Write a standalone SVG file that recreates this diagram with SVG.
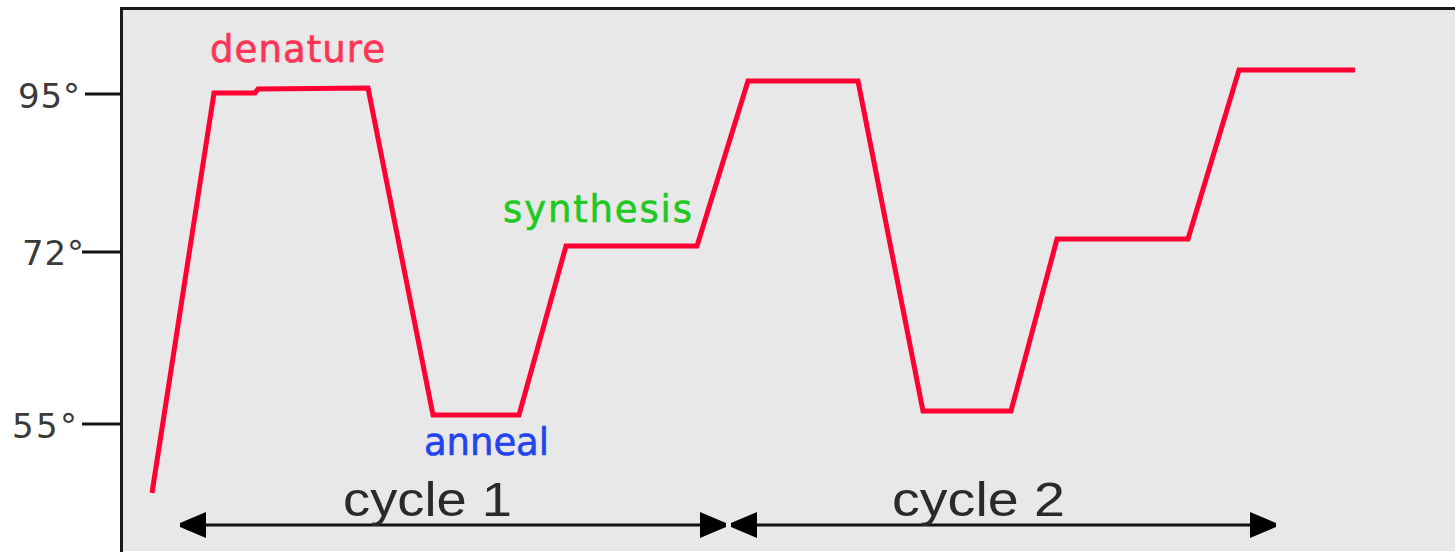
<svg xmlns="http://www.w3.org/2000/svg" width="1455" height="552" viewBox="0 0 1455 552">
  <style>
    .frame { stroke: #1a1a1a; stroke-width: 3; fill: none; }
    .tick { stroke: #111; stroke-width: 3; }
    .axis-label { font-family: "DejaVu Sans", Verdana, sans-serif; font-size: 34px; fill: #3a3a3a; }
    .phase { font-family: "DejaVu Sans", Verdana, sans-serif; font-size: 37px; stroke-width: 0.6px; }
    .cycle-label { font-family: "Liberation Sans", Arial, sans-serif; font-size: 48px; fill: #2a2a2a; }
    .trace { stroke: #ff0033; stroke-width: 5; fill: none; stroke-linejoin: miter; }
    .span { stroke: #111; stroke-width: 3; fill: none; marker-start: url(#head-start); marker-end: url(#head-end); }
  </style>
  <defs>
    <marker id="head-end" viewBox="0 0 26 26" refX="26" refY="13" markerWidth="26" markerHeight="26" markerUnits="userSpaceOnUse" orient="auto">
      <path d="M0,0 L26,11 L26,15 L0,26 Z" fill="#000"/>
    </marker>
    <marker id="head-start" viewBox="0 0 26 26" refX="0" refY="13" markerWidth="26" markerHeight="26" markerUnits="userSpaceOnUse" orient="auto">
      <path d="M26,0 L0,11 L0,15 L26,26 Z" fill="#000"/>
    </marker>
  </defs>

  <!-- white page with the plotting area -->
  <rect x="0" y="0" width="1455" height="552" fill="#ffffff"/>
  <rect id="plot-area" x="121" y="8" width="1334" height="543" fill="#e8e8e8"/>
  <path class="frame" d="M121.5,552 L121.5,8.5 L1455,8.5"/>

  <!-- temperature axis -->
  <g id="axis">
    <line class="tick" x1="85" y1="94" x2="121" y2="94"/>
    <line class="tick" x1="82" y1="252" x2="121" y2="252"/>
    <line class="tick" x1="82" y1="424" x2="121" y2="424"/>
    <text class="axis-label" x="18" y="108" textLength="62">95°</text>
    <text class="axis-label" x="22" y="265" textLength="62">72°</text>
    <text class="axis-label" x="12" y="438" textLength="65">55°</text>
  </g>

  <!-- temperature profile over two cycles -->
  <g id="profile">
    <polyline class="trace" points="152,493 214,93 255,93 258,89 368,88 433,415 519,415 566,246 697,246 748,81 858,81 923,411 1011,411 1057,239 1188,239 1239,70 1355,70"/>
  </g>

  <!-- step labels -->
  <g id="label-denature"><text class="phase" x="210" y="62" fill="#ff3355" stroke="#ff3355" textLength="175">denature</text></g>
  <g id="label-synthesis"><text class="phase" x="503" y="222" fill="#22c822" stroke="#22c822" textLength="189">synthesis</text></g>
  <g id="label-anneal"><text class="phase" x="424" y="455" fill="#2244ee" stroke="#2244ee" textLength="125">anneal</text></g>

  <!-- cycle spans -->
  <g id="connectors">
    <line class="span" x1="180" y1="525" x2="726" y2="525"/>
    <line class="span" x1="731" y1="525" x2="1276" y2="525"/>
  </g>
  <g id="label-cycle-1"><text class="cycle-label" x="343" y="516" textLength="169" lengthAdjust="spacingAndGlyphs">cycle 1</text></g>
  <g id="label-cycle-2"><text class="cycle-label" x="892" y="516" textLength="173" lengthAdjust="spacingAndGlyphs">cycle 2</text></g>
</svg>
